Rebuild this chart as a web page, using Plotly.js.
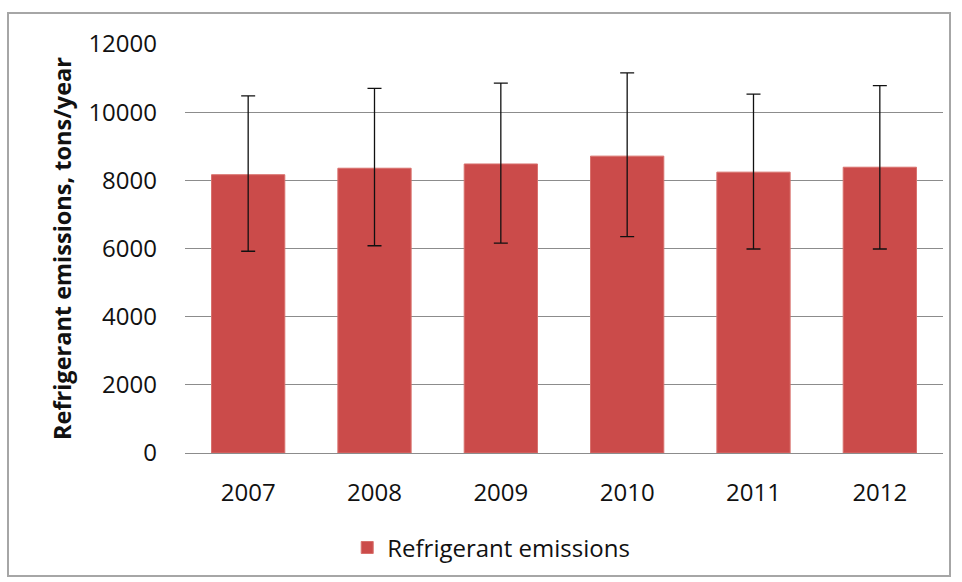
<!DOCTYPE html>
<html>
<head>
<meta charset="utf-8">
<script src="https://cdn.plot.ly/plotly-3.0.1.min.js"></script>
<style>
html,body{margin:0;padding:0;background:#fff;}
#chart{width:962px;height:582px;}
</style>
</head>
<body>
<div id="chart"></div>
<script>
var years = ["2007", "2008", "2009", "2010", "2011", "2012"];
var emissions = [8165, 8355, 8480, 8710, 8240, 8385];
var upperBound = [10480, 10700, 10850, 11150, 10530, 10780];
var lowerBound = [5920, 6080, 6155, 6350, 5985, 5985];
var yTicks = [0, 2000, 4000, 6000, 8000, 10000, 12000];
var seriesName = "Refrigerant emissions";
var yTitle = "Refrigerant emissions, tons/year";

var plus = emissions.map(function (v, i) { return upperBound[i] - v; });
var minus = emissions.map(function (v, i) { return v - lowerBound[i]; });

var fontFam = "Open Sans, Noto Sans, sans-serif";
var txt = "#111111";

var trace = {
  type: "bar",
  x: years,
  y: emissions,
  name: seriesName,
  showlegend: true,
  marker: { color: "#CB4B4A", line: { color: "#D8706C", width: 1 } },
  error_y: {
    type: "data",
    symmetric: false,
    array: plus,
    arrayminus: minus,
    color: "#111111",
    thickness: 1.3,
    width: 7
  }
};

var layout = {
  width: 962,
  height: 582,
  paper_bgcolor: "#ffffff",
  plot_bgcolor: "#ffffff",
  margin: { l: 185, r: 19, t: 44, b: 129 },
  bargap: 0.42,
  font: { family: fontFam, color: txt, size: 24 },
  xaxis: {
    type: "category",
    showgrid: false,
    showline: true,
    linecolor: "#8c8c8c",
    linewidth: 1,
    ticks: "",
    ticklabelstandoff: 18,
    tickfont: { size: 24, family: fontFam, color: txt }
  },
  yaxis: {
    range: [0, 12000],
    tickvals: yTicks,
    ticktext: yTicks.map(String),
    showgrid: true,
    gridcolor: "#8c8c8c",
    gridwidth: 1,
    zeroline: false,
    showline: false,
    ticks: "",
    ticklabelstandoff: 27,
    tickfont: { size: 24, family: fontFam, color: txt },
    title: {
      text: yTitle,
      standoff: 10,
      font: { size: 23.5, family: fontFam, color: txt, weight: "bold" }
    }
  },
  showlegend: true,
  legend: {
    orientation: "h",
    x: 0.214,
    xanchor: "left",
    y: -0.232,
    yanchor: "middle",
    font: { size: 24, family: fontFam, color: txt },
    bgcolor: "rgba(0,0,0,0)"
  },
  shapes: [{
    type: "rect",
    xref: "paper", yref: "paper",
    x0: (8 - 185) / 758, x1: (950 - 185) / 758,
    y0: (453 - 576) / 409, y1: (453 - 13) / 409,
    line: { color: "#a6a6a6", width: 2 },
    fillcolor: "rgba(0,0,0,0)",
    layer: "below"
  }]
};

Plotly.newPlot("chart", [trace], layout, { displayModeBar: false, staticPlot: true });
</script>
</body>
</html>
